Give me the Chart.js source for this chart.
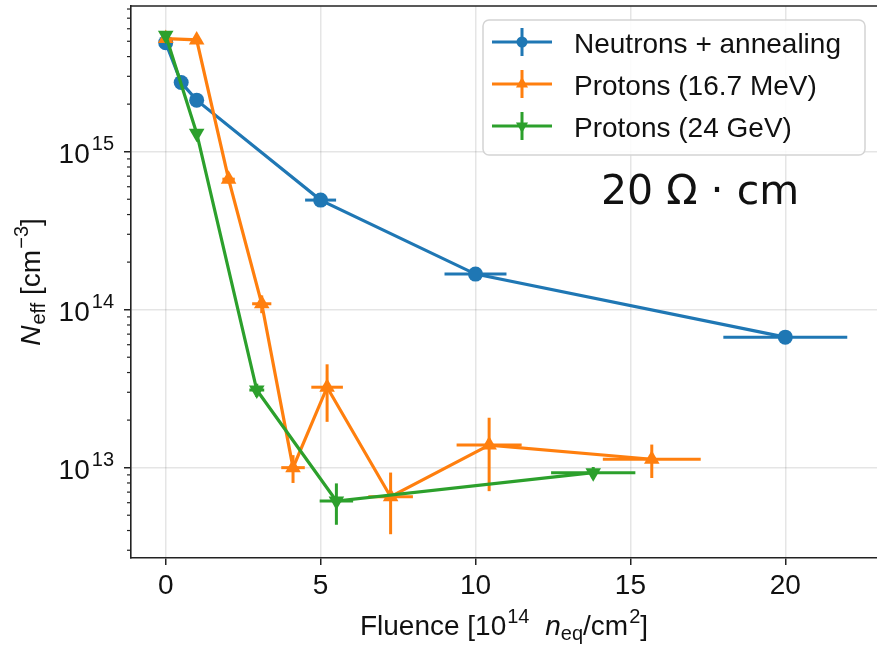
<!DOCTYPE html>
<html>
<head>
<meta charset="utf-8">
<script src="https://cdn.jsdelivr.net/npm/chart.js@4.4.0/dist/chart.umd.min.js"></script>
<style>
  html, body { margin: 0; padding: 0; background: #fff; overflow: hidden; }
  canvas { display: block; }
</style>
</head>
<body>
<canvas id="neffChart" width="877" height="647"></canvas>
<script>
// series labels
const seriesNames = ['Neutrons + annealing', 'Protons (16.7 MeV)', 'Protons (24 GeV)'];

// Neutrons + annealing
const neutronX = [0, 0.5, 1, 5, 10, 20];
const neutronY = [4.9e15, 2.74e15, 2.12e15, 4.94e14, 1.68e14, 6.7e13];
const neutronXErr = [0, 0, 0, 0.5, 1.0, 2.0];
const neutronYErr = [0, 0, 0, 0, 0, 0];

// Protons 16.7 MeV
const proton17X = [0, 1.0, 2.03, 3.1, 4.11, 5.21, 7.26, 10.44, 15.69];
const proton17Y = [5.2e15, 5.1e15, 6.7e14, 1.09e14, 1.0e13, 3.23e13, 6.55e12, 1.39e13, 1.13e13];
const proton17XErr = [0, 0, 0.2, 0.31, 0.38, 0.51, 0.72, 1.05, 1.58];
const proton17YErr = [0, 0, 4e13, 1.4e13, 2.0e12, 1.28e13, 2.76e12, 6.8e12, 2.7e12];

// Protons 24 GeV
const proton24X = [0, 1.0, 2.94, 5.51, 13.8];
const proton24Y = [5.45e15, 1.31e15, 3.1e13, 6.15e12, 9.3e12];
const proton24XErr = [0, 0, 0.24, 0.54, 1.36];
const proton24YErr = [0, 0, 3e12, 1.8e12, 0.8e12];

// axes
const xTickValues = [0, 5, 10, 15, 20];
const yMajorTicks = [1e13, 1e14, 1e15];
const yMajorLabels = [['10', '13'], ['10', '14'], ['10', '15']];
const yMinorTicks = [3e12, 4e12, 5e12, 6e12, 7e12, 8e12, 9e12,
    2e13, 3e13, 4e13, 5e13, 6e13, 7e13, 8e13, 9e13,
    2e14, 3e14, 4e14, 5e14, 6e14, 7e14, 8e14, 9e14,
    2e15, 3e15, 4e15, 5e15, 6e15, 7e15, 8e15];

const colors = ['#1f77b4', '#ff7f0e', '#2ca02c'];
const FONT = '"Liberation Sans", Arial, sans-serif';
const TEXT = '#111';

function toPoints(xs, ys) {
    return xs.map((x, i) => ({ x: x, y: ys[i] }));
}

// text runs with sup / sub / italic pieces
function richWidth(ctx, parts) {
    let w = 0;
    parts.forEach(p => {
        ctx.font = (p.italic ? 'italic ' : '') + p.size + 'px ' + FONT;
        w += ctx.measureText(p.t).width + (p.gap || 0);
    });
    return w;
}
function drawRich(ctx, parts, x, y) {
    parts.forEach(p => {
        ctx.font = (p.italic ? 'italic ' : '') + p.size + 'px ' + FONT;
        ctx.fillText(p.t, x, y + (p.dy || 0));
        x += ctx.measureText(p.t).width + (p.gap || 0);
    });
}

function drawMarker(ctx, style, x, y, r, color) {
    ctx.fillStyle = color;
    ctx.beginPath();
    if (style === 'circle') {
        ctx.arc(x, y, r, 0, Math.PI * 2);
    } else {
        const s = style === 'down' ? -1 : 1;
        ctx.moveTo(x, y - s * r);
        ctx.lineTo(x + r * 0.866, y + s * r * 0.5);
        ctx.lineTo(x - r * 0.866, y + s * r * 0.5);
        ctx.closePath();
    }
    ctx.fill();
}

const errorBarPlugin = {
    id: 'errorBars',
    beforeDatasetsDraw(chart) {
        const ctx = chart.ctx;
        const xs = chart.scales.x, ys = chart.scales.y;
        const area = chart.chartArea;
        ctx.save();
        ctx.beginPath();
        ctx.rect(area.left, area.top, area.right - area.left, area.bottom - area.top);
        ctx.clip();
        chart.data.datasets.forEach(ds => {
            ctx.strokeStyle = ds.borderColor;
            ctx.lineWidth = 3;
            ds.data.forEach((p, i) => {
                const px = xs.getPixelForValue(p.x), py = ys.getPixelForValue(p.y);
                const xe = ds.xErr[i], ye = ds.yErr[i];
                if (xe > 0) {
                    ctx.beginPath();
                    ctx.moveTo(xs.getPixelForValue(p.x - xe), py);
                    ctx.lineTo(xs.getPixelForValue(p.x + xe), py);
                    ctx.stroke();
                }
                if (ye > 0) {
                    ctx.beginPath();
                    ctx.moveTo(px, ys.getPixelForValue(p.y - ye));
                    ctx.lineTo(px, ys.getPixelForValue(p.y + ye));
                    ctx.stroke();
                }
            });
        });
        ctx.restore();
    }
};

const decorPlugin = {
    id: 'decor',
    afterDraw(chart) {
        const ctx = chart.ctx;
        const area = chart.chartArea;
        const ys = chart.scales.y;
        ctx.save();

        // top spine
        ctx.strokeStyle = '#222';
        ctx.lineWidth = 1.6;
        ctx.beginPath();
        ctx.moveTo(area.left - 0.8, area.top);
        ctx.lineTo(chart.width, area.top);
        ctx.stroke();

        // minor y ticks
        ctx.lineWidth = 1.2;
        yMinorTicks.forEach(v => {
            const py = ys.getPixelForValue(v);
            if (py < area.top || py > area.bottom) return;
            ctx.beginPath();
            ctx.moveTo(area.left - 4, py);
            ctx.lineTo(area.left, py);
            ctx.stroke();
        });

        // y tick labels 10^n
        ctx.fillStyle = TEXT;
        ctx.textBaseline = 'alphabetic';
        ctx.textAlign = 'left';
        yMajorTicks.forEach((v, i) => {
            const py = ys.getPixelForValue(v);
            const parts = [
                { t: yMajorLabels[i][0], size: 28, gap: 2 },
                { t: yMajorLabels[i][1], size: 20, dy: -12.6 }
            ];
            const w = richWidth(ctx, parts);
            drawRich(ctx, parts, 114 - w, py + 11.3);
        });

        // x axis title
        const xParts = [
            { t: 'Fluence [10', size: 28, gap: 1 },
            { t: '14', size: 20, dy: -12, gap: 8 },
            { t: ' ', size: 28 },
            { t: 'n', size: 28, italic: true },
            { t: 'eq', size: 20, dy: 5 },
            { t: '/cm', size: 28, gap: 1 },
            { t: '2', size: 20, dy: -12 },
            { t: ']', size: 28 }
        ];
        const xw = richWidth(ctx, xParts);
        drawRich(ctx, xParts, 504 - xw / 2, 635);

        // y axis title
        const yParts = [
            { t: 'N', size: 28, italic: true, gap: 1 },
            { t: 'eff', size: 20, dy: 5 },
            { t: ' [cm', size: 28, gap: 1 },
            { t: '\u22123', size: 20, dy: -12 },
            { t: ']', size: 28 }
        ];
        const yw = richWidth(ctx, yParts);
        ctx.save();
        ctx.translate(40, (area.top + area.bottom) / 2);
        ctx.rotate(-Math.PI / 2);
        drawRich(ctx, yParts, -yw / 2, 0);
        ctx.restore();

        // annotation
        ctx.font = '41px "DejaVu Sans", sans-serif';
        ctx.fillText('20 \u03A9 \u00B7 cm', 601, 204);

        // legend
        const lx = 483, ly = 20, lw = 382, lh = 135;
        ctx.fillStyle = 'rgba(255,255,255,0.85)';
        ctx.strokeStyle = '#d4d4d4';
        ctx.lineWidth = 1.5;
        ctx.beginPath();
        ctx.roundRect(lx, ly, lw, lh, 6);
        ctx.fill();
        ctx.stroke();
        const markerStyles = ['circle', 'up', 'down'];
        seriesNames.forEach((name, i) => {
            const cy = 42 + i * 42;
            ctx.strokeStyle = colors[i];
            ctx.lineWidth = 3;
            ctx.beginPath();
            ctx.moveTo(492, cy);
            ctx.lineTo(552, cy);
            ctx.moveTo(522, cy - 14);
            ctx.lineTo(522, cy + 14);
            ctx.stroke();
            drawMarker(ctx, markerStyles[i], 522, cy, i === 0 ? 5.5 : 7, colors[i]);
            ctx.fillStyle = TEXT;
            ctx.font = '28px ' + FONT;
            ctx.fillText(name, 574, cy + 11);
        });

        ctx.restore();
    }
};

function makeDataset(i, xs, ys, xErr, yErr, style, rotation, radius) {
    return {
        label: seriesNames[i],
        data: toPoints(xs, ys),
        xErr: xErr,
        yErr: yErr,
        borderColor: colors[i],
        backgroundColor: colors[i],
        borderWidth: 3.2,
        pointStyle: style,
        pointRotation: rotation,
        pointRadius: radius,
        pointBorderWidth: 0,
        pointHoverRadius: radius,
        showLine: true,
        fill: false,
        tension: 0,
        order: 2 - i
    };
}

new Chart(document.getElementById('neffChart').getContext('2d'), {
    type: 'line',
    data: {
        datasets: [
            makeDataset(0, neutronX, neutronY, neutronXErr, neutronYErr, 'circle', 0, 7.5),
            makeDataset(1, proton17X, proton17Y, proton17XErr, proton17YErr, 'triangle', 0, 9),
            makeDataset(2, proton24X, proton24Y, proton24XErr, proton24YErr, 'triangle', 180, 9)
        ]
    },
    options: {
        responsive: false,
        animation: false,
        events: [],
        layout: { autoPadding: false, padding: { top: 6, right: 0, left: 0, bottom: 0 } },
        plugins: {
            legend: { display: false },
            tooltip: { enabled: false }
        },
        scales: {
            x: {
                type: 'linear',
                min: -1.12,
                max: 22.96,
                afterBuildTicks: scale => { scale.ticks = xTickValues.map(v => ({ value: v })); },
                afterFit: scale => {
                    scale.height = 89;
                    scale.paddingLeft = 0;
                    scale.paddingRight = 0;
                },
                border: { display: true, color: '#222', width: 1.6 },
                grid: {
                    color: 'rgba(0,0,0,0.1)',
                    lineWidth: 1.5,
                    drawTicks: true,
                    tickLength: 7,
                    tickColor: '#222',
                    tickWidth: 1.5
                },
                ticks: {
                    color: TEXT,
                    font: { family: FONT, size: 28 },
                    padding: 4,
                    maxRotation: 0,
                    autoSkip: false
                }
            },
            y: {
                type: 'logarithmic',
                min: 2.68e12,
                max: 8.36e15,
                afterBuildTicks: scale => { scale.ticks = yMajorTicks.map(v => ({ value: v, major: true })); },
                afterFit: scale => { scale.width = 131; },
                border: { display: true, color: '#222', width: 1.6 },
                grid: {
                    color: 'rgba(0,0,0,0.1)',
                    lineWidth: 1.5,
                    drawTicks: true,
                    tickLength: 7,
                    tickColor: '#222',
                    tickWidth: 1.5
                },
                ticks: { display: false }
            }
        }
    },
    plugins: [errorBarPlugin, decorPlugin]
});
</script>
</body>
</html>
